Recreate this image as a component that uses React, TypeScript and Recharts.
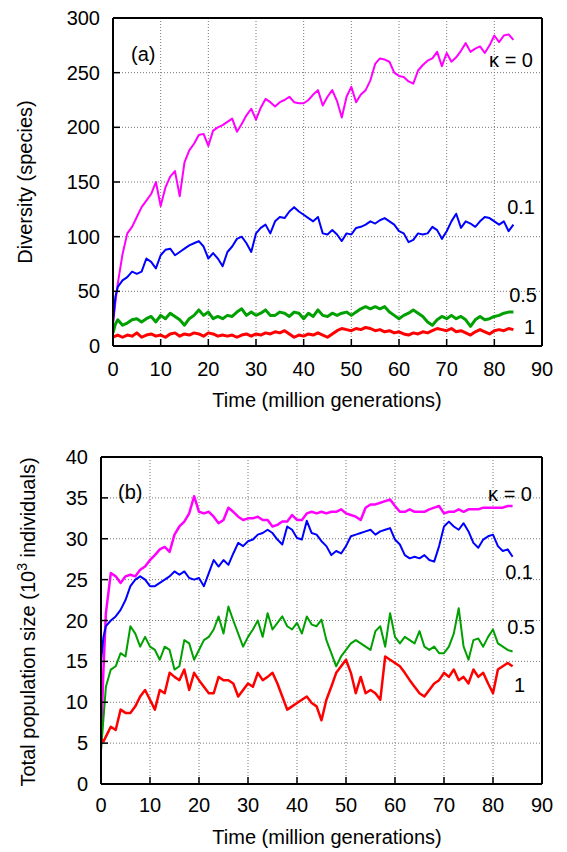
import React from 'react';
import { LineChart, Line, XAxis, YAxis, CartesianGrid } from 'recharts';

// time in million generations
const times = [
  0, 0.5,
  1, 2, 3, 4, 5, 6, 7, 8, 9, 10,
  11, 12, 13, 14, 15, 16, 17, 18, 19, 20,
  21, 22, 23, 24, 25, 26, 27, 28, 29, 30,
  31, 32, 33, 34, 35, 36, 37, 38, 39, 40,
  41, 42, 43, 44, 45, 46, 47, 48, 49, 50,
  51, 52, 53, 54, 55, 56, 57, 58, 59, 60,
  61, 62, 63, 64, 65, 66, 67, 68, 69, 70,
  71, 72, 73, 74, 75, 76, 77, 78, 79, 80,
  81, 82, 83, 84,
];

// Panel (a): diversity (species)
const divK0 = [
  20, 40,
  57, 84, 103, 109, 118, 127, 133, 139, 150, 128,
  145, 155, 160, 137, 168, 179, 185, 193, 194, 183,
  197, 200, 202, 205, 208, 196, 203, 211, 217, 207,
  218, 226, 223, 219, 223, 225, 228, 223, 222, 222,
  225, 230, 234, 220, 228, 234, 224, 209, 228, 237,
  223, 230, 234, 243, 258, 263, 262, 260, 250, 247,
  246, 242, 240, 252, 257, 261, 263, 269, 256, 268,
  260, 264, 270, 277, 269, 272, 274, 268, 275, 284,
  278, 284, 285, 280,
];
const divK01 = [
  22, 45,
  54, 60, 63, 68, 66, 68, 80, 77, 71, 83,
  88, 89, 83, 86, 89, 92, 94, 96, 91, 80,
  85, 80, 73, 86, 91, 98, 100, 94, 86, 103,
  108, 111, 103, 114, 118, 117, 123, 127, 123, 120,
  117, 114, 118, 103, 102, 106, 102, 96, 103, 102,
  108, 109, 111, 114, 112, 115, 117, 114, 111, 105,
  103, 95, 97, 103, 102, 103, 109, 106, 98, 105,
  114, 121, 108, 114, 112, 109, 114, 118, 117, 114,
  111, 114, 105, 111,
];
const divK05 = [
  12, 20,
  24, 19, 21, 24, 25, 22, 25, 27, 22, 28,
  25, 30, 27, 24, 19, 25, 28, 33, 28, 31,
  25, 27, 25, 28, 27, 31, 34, 28, 31, 28,
  30, 33, 28, 28, 31, 30, 27, 31, 30, 25,
  30, 27, 33, 28, 27, 30, 28, 30, 31, 28,
  31, 34, 36, 34, 36, 34, 36, 31, 28, 25,
  28, 30, 33, 30, 27, 22, 19, 24, 27, 25,
  28, 25, 27, 24, 18, 24, 27, 24, 25, 27,
  28, 30, 31, 31,
];
const divK1 = [
  8, 9,
  10, 8, 10, 9, 12, 8, 10, 11, 9, 10,
  8, 11, 12, 9, 11, 10, 12, 11, 9, 12,
  11, 9, 10, 9, 10, 8, 10, 11, 9, 11,
  10, 12, 11, 13, 12, 14, 11, 8, 10, 9,
  11, 10, 12, 10, 8, 11, 14, 16, 15, 14,
  16, 15, 17, 16, 14, 15, 13, 14, 12, 13,
  11, 10, 12, 11, 13, 12, 14, 16, 15, 14,
  16, 13, 14, 12, 10, 13, 15, 13, 11, 14,
  15, 14, 16, 15,
];

// Panel (b): total population size (10^3 individuals)
const popK0 = [
  5, 14,
  20.9, 25.8, 25.4, 24.6, 25.4, 25.6, 25.4, 26.2, 26.6, 27.4,
  28, 28.7, 29, 28.4, 30.5, 31.5, 32.1, 33.1, 35.2, 33.3,
  33.1, 33.3, 32.7, 31.9, 32.3, 33.8, 33.3, 32.7, 32.3, 32.5,
  32.5, 32.7, 32.3, 32.3, 31.5, 31.7, 32.1, 32.1, 32.9, 32.3,
  32.3, 33.1, 33.3, 33.1, 33.3, 33.1, 33.3, 33.3, 33.6, 33.1,
  32.9, 32.7, 32.3, 33.8, 34.2, 34.2, 34.4, 34.6, 34.8, 34,
  33.3, 33.3, 33.6, 33.3, 33.3, 33.3, 33.6, 33.8, 34, 33.1,
  33.3, 33.3, 33.6, 33.3, 33.6, 33.6, 33.6, 33.8, 33.8, 33.8,
  33.8, 33.8, 34, 34,
];
const popK01 = [
  15, 18,
  19.3, 20, 20.5, 21.3, 22.5, 24.2, 25, 25.4, 25, 24.2,
  24.2, 24.6, 25, 25.4, 26, 25.6, 26, 25.2, 25, 25.2,
  24.2, 25.8, 27.4, 26.6, 27.4, 26.8, 28.2, 29.5, 29.1, 29.7,
  29.9, 30.5, 30.7, 31.1, 30.7, 29.9, 29.3, 31.5, 31.1, 30.1,
  29.9, 32.2, 30.7, 30.5, 29.7, 29.1, 28, 28.5, 28.2, 29.1,
  30.3, 30.5, 30.7, 30.9, 31.1, 30.5, 30.9, 31.1, 31.3, 29.9,
  29.3, 28, 27.6, 27.8, 27.6, 28, 27.4, 27.2, 29.1, 31.5,
  32.1, 31.5, 31.1, 31.9, 30.9, 29.5, 28.9, 29.9, 30.3, 30.5,
  29.1, 28.5, 28.7, 27.8,
];
const popK05 = [
  4, 8,
  11.9, 14, 14.4, 16, 15.6, 19.3, 18.4, 16.8, 18, 16.8,
  16.4, 15.2, 16.8, 16.4, 14, 14.4, 17.6, 17.2, 15.2, 16.4,
  17.6, 18, 18.9, 20.5, 18.4, 21.7, 20, 18.4, 16.8, 18,
  18.9, 20, 18, 20.9, 18.9, 19.7, 20.5, 19.3, 18.9, 19.7,
  18.4, 20.5, 19.5, 19.3, 20.1, 17.6, 16, 14.4, 15.6, 16.4,
  17.2, 17.6, 17.2, 16.8, 16.4, 18.7, 19.3, 16.8, 20.9, 18,
  17.2, 18, 17.6, 17.2, 18.7, 16.8, 16.4, 16.8, 16, 16,
  16.8, 18.4, 21.5, 16.8, 15.2, 17.6, 17.8, 16.8, 18, 18.9,
  17.2, 16.8, 16.4, 16.2,
];
const popK1 = [
  5.5, 5.2,
  5.8, 7, 6.6, 9.1, 8.7, 8.7, 9.5, 10.7, 11.5, 10.3,
  9.1, 11.5, 11.1, 13.6, 13.1, 12.7, 14, 11.5, 13.6, 12.7,
  11.9, 11.1, 11.1, 13.1, 12.7, 12.7, 12.3, 10.7, 11.5, 12.3,
  11.9, 13.6, 12.7, 13.1, 13.6, 12.3, 10.7, 9.1, 9.5, 9.9,
  10.3, 10.7, 9.9, 9.5, 7.8, 10.3, 11.9, 13.6, 14.4, 15.2,
  13.6, 11.1, 13.1, 11.1, 11.5, 11.1, 10.3, 15.6, 15.2, 14.8,
  14.4, 13.6, 12.7, 11.9, 11.1, 10.7, 11.5, 12.3, 12.7, 13.6,
  13.1, 14, 12.7, 13.1, 12.3, 14, 13.1, 13.6, 12.3, 11.1,
  14, 14.4, 14.8, 14.4,
];

const xTicks = [0, 10, 20, 30, 40, 50, 60, 70, 80, 90];
const divTicks = [0, 50, 100, 150, 200, 250, 300];
const popTicks = [0, 5, 10, 15, 20, 25, 30, 35, 40];

const seriesKeys = ['k0', 'k01', 'k05', 'k1'];
const seriesColors = ['#ff00ff', '#0000ff', '#00a000', '#ff0000'];

const divRows = times.map((t, i) => ({ t, k0: divK0[i], k01: divK01[i], k05: divK05[i], k1: divK1[i] }));
const popRows = times.map((t, i) => ({ t, k0: popK0[i], k01: popK01[i], k05: popK05[i], k1: popK1[i] }));

const FONT = '"Liberation Sans", Arial, Helvetica, sans-serif';
const FS = 20;

const tickStyle = { fontSize: FS, fill: '#000', fontFamily: FONT };
const axisLine = { stroke: '#000', strokeWidth: 2 };
const tickLine = { stroke: '#000', strokeWidth: 1.5 };

function Panel({ rows, yDomain, yTicks, leftW, marginTop, height, xH, xTickMargin, xLabelY, yLabel, widths }) {
  return (
    <LineChart
      width={567}
      height={height}
      data={rows}
      margin={{ top: marginTop, right: 0, bottom: 0, left: 0 }}
    >
      <CartesianGrid stroke="#777" strokeDasharray="1 2" strokeWidth={1} />
      <XAxis
        dataKey="t"
        type="number"
        domain={[0, 90]}
        ticks={xTicks}
        interval={0}
        height={xH}
        tickSize={-7}
        tickMargin={xTickMargin}
        tick={tickStyle}
        axisLine={axisLine}
        tickLine={tickLine}
        allowDataOverflow
        label={{
          content: () => (
            <text x={327} y={xLabelY} textAnchor="middle" fontSize={FS} fontFamily={FONT} fill="#000">
              Time (million generations)
            </text>
          ),
        }}
      />
      <XAxis
        xAxisId="top"
        orientation="top"
        dataKey="t"
        type="number"
        domain={[0, 90]}
        ticks={xTicks}
        interval={0}
        height={1}
        tickSize={-7}
        tick={false}
        axisLine={axisLine}
        tickLine={tickLine}
        allowDataOverflow
      />
      <YAxis
        type="number"
        domain={yDomain}
        ticks={yTicks}
        interval={0}
        width={leftW}
        tickSize={-7}
        tickMargin={20}
        tick={tickStyle}
        axisLine={axisLine}
        tickLine={tickLine}
        allowDataOverflow
        label={{ content: yLabel }}
      />
      <YAxis
        yAxisId="right"
        orientation="right"
        type="number"
        domain={yDomain}
        ticks={yTicks}
        interval={0}
        width={25}
        tickSize={-7}
        tick={false}
        axisLine={axisLine}
        tickLine={tickLine}
        allowDataOverflow
      />
      {seriesKeys.map((k, i) => (
        <Line
          key={k}
          dataKey={k}
          type="linear"
          stroke={seriesColors[i]}
          strokeWidth={widths[i]}
          strokeLinejoin="round"
          dot={false}
          isAnimationActive={false}
        />
      ))}
    </LineChart>
  );
}

const labelStyle: React.CSSProperties = {
  position: 'absolute',
  fontSize: FS,
  fontFamily: FONT,
  color: '#000',
  lineHeight: 1,
  whiteSpace: 'nowrap',
};

function RightLabel({ text, right, baseline }) {
  return (
    <div style={{ ...labelStyle, right: 567 - right, top: baseline - Math.round(FS * 0.9) }}>{text}</div>
  );
}

export default function App() {
  return (
    <div style={{ position: 'absolute', left: 0, top: 0, width: 567, height: 852, background: '#fff' }}>
      <div style={{ position: 'absolute', left: 0, top: 0 }}>
        <Panel
          rows={divRows}
          yDomain={[0, 300]}
          yTicks={divTicks}
          leftW={113}
          marginTop={17}
          height={420}
          xH={74}
          xTickMargin={23}
          xLabelY={407}
          widths={[2, 2, 3, 3]}
          yLabel={() => (
            <text x={32} y={182} transform="rotate(-90 32 182)" textAnchor="middle" fontSize={FS} fontFamily={FONT} fill="#000">
              Diversity (species)
            </text>
          )}
        />
      </div>
      <div style={{ position: 'absolute', left: 0, top: 420 }}>
        <Panel
          rows={popRows}
          yDomain={[0, 40]}
          yTicks={popTicks}
          leftW={101}
          marginTop={36}
          height={432}
          xH={68}
          xTickMargin={21}
          xLabelY={424}
          widths={[2.5, 2, 2, 2.5]}
          yLabel={() => (
            <text x={35} y={202} transform="rotate(-90 35 202)" textAnchor="middle" fontSize={FS} fontFamily={FONT} fill="#000">
              Total population size (10<tspan dy={-8} fontSize={14}>3</tspan>
              <tspan dy={8}> individuals)</tspan>
            </text>
          )}
        />
      </div>
      <div style={{ ...labelStyle, left: 131, top: 44 }}>(a)</div>
      <div style={{ ...labelStyle, left: 118, top: 482 }}>(b)</div>
      <RightLabel text="κ = 0" right={533} baseline={68} />
      <RightLabel text="0.1" right={535} baseline={215} />
      <RightLabel text="0.5" right={537} baseline={303} />
      <RightLabel text="1" right={535} baseline={335} />
      <RightLabel text="κ = 0" right={532} baseline={502} />
      <RightLabel text="0.1" right={533} baseline={580} />
      <RightLabel text="0.5" right={535} baseline={635} />
      <RightLabel text="1" right={525} baseline={693} />
    </div>
  );
}
